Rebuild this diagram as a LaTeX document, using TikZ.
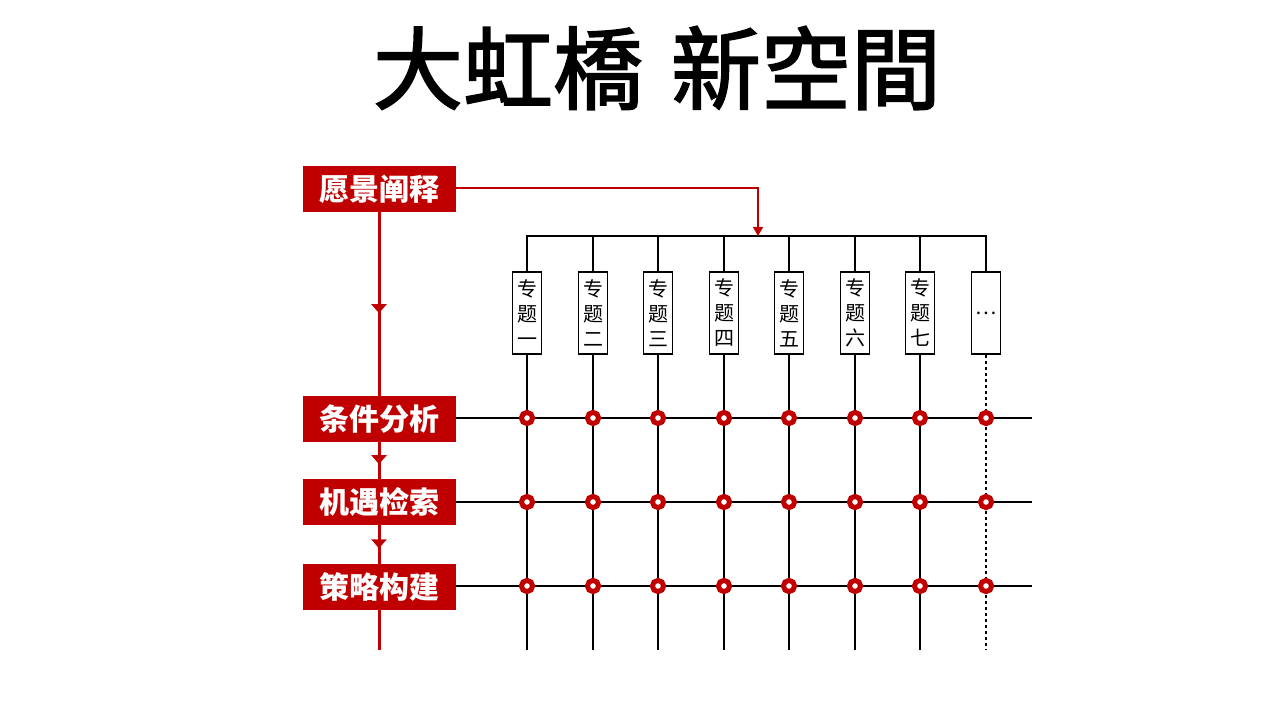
\documentclass[tikz,border=0pt]{standalone}
\usepackage{fontspec}
\newfontfamily\cjk{Noto Sans CJK SC}
\newfontfamily\cjktc[FakeBold=2]{Noto Sans CJK TC}
\usetikzlibrary{arrows.meta,decorations.markings,calc}
\definecolor{myred}{RGB}{192,0,0}
\begin{document}
\begin{tikzpicture}[x=1pt,y=-1pt,
  redbox/.style={fill=myred,text=white,minimum width=153pt,minimum height=46pt,inner sep=0pt,font=\cjk\bfseries\fontsize{30}{32}\selectfont},
  topicbox/.style={draw=black,line width=1.8pt,fill=white,minimum width=29pt,minimum height=82pt,inner sep=0pt,align=center,font=\cjk\fontsize{20}{25}\selectfont},
  redline/.style={draw=myred,line width=3pt},
  midarrow/.style={postaction={decorate},decoration={markings,mark=at position #1 with {\arrow{Triangle[width=15pt,length=9pt]}}}},
  thinred/.style={draw=myred,line width=1.5pt},
  gridline/.style={draw=black,line width=2pt},
  ring/.style={draw=myred,fill=white,line width=5pt},
]
\useasboundingbox (0,0) rectangle (1269,714);
% title
\node[font=\cjktc\fontsize{90}{92}\selectfont] (title) at (657,68) {大虹橋\hspace{28pt}新空間};
% red boxes
\node[redbox] (v) at (379,189) {愿景阐释};
\node[redbox] (c1) at (379,419) {条件分析};
\node[redbox] (c2) at (379,502) {机遇检索};
\node[redbox] (c3) at (379,587) {策略构建};
\coordinate (vend) at (379,650);
% red vertical flow
\draw[redline,midarrow=0.55] (v.south) -- (c1.north);
\draw[redline,midarrow=0.6] (c1.south) -- (c2.north);
\draw[redline,midarrow=0.6] (c2.south) -- (c3.north);
\draw[redline] (c3.south) -- (vend);
% topic boxes
\node[topicbox] (t1) at (527,313) {专\\题\\一};
\node[topicbox] (t2) at (593,313) {专\\题\\二};
\node[topicbox] (t3) at (658,313) {专\\题\\三};
\node[topicbox] (t4) at (724,313) {专\\题\\四};
\node[topicbox] (t5) at (789,313) {专\\题\\五};
\node[topicbox] (t6) at (855,313) {专\\题\\六};
\node[topicbox] (t7) at (920,313) {专\\题\\七};
\node[topicbox] (t8) at (986,313) {…};
% top bar
\coordinate (barL) at (527,236);
\coordinate (barR) at (986,236);
\coordinate (barM) at (758,236);
\draw[gridline] (t1.north) -- (t1.north |- barL) -- (barR) -- (t8.north);
\foreach \i in {2,...,7} {\draw[gridline] (t\i.north) -- (t\i.north |- barL);}
% red connector
\coordinate (vturn) at (758,188);
\draw[thinred,-{Triangle[width=10pt,length=9pt]}] (v.east |- vturn) -- (vturn) -- (barM);
% horizontal lines
\coordinate (h1) at (1032,418);
\coordinate (h2) at (1032,502);
\coordinate (h3) at (1032,586);
\draw[gridline] (c1.east |- h1) -- (h1);
\draw[gridline] (c2.east |- h2) -- (h2);
\draw[gridline] (c3.east |- h3) -- (h3);
% vertical lines
\foreach \i in {1,...,7} {
  \draw[gridline] (t\i.south) -- (t\i.south |- vend);
}
\draw[gridline,dash pattern=on 3pt off 3pt] (t8.south) -- (t8.south |- vend);
% rings
\foreach \i in {1,...,8} {
  \foreach \h in {h1,h2,h3} {
    \draw[ring] (t\i.south |- \h) circle (5.6pt);
  }
}
\end{tikzpicture}
\end{document}
